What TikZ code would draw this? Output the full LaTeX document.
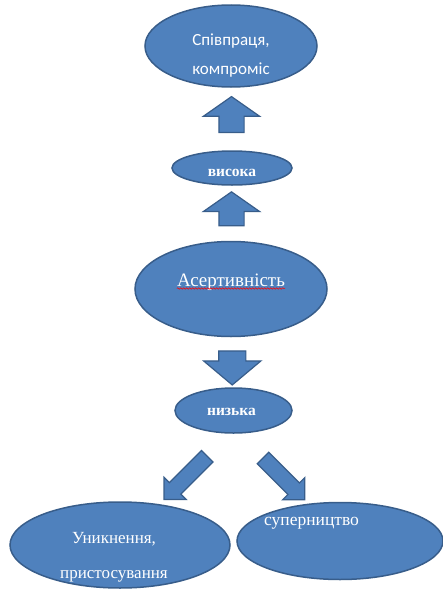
\documentclass[tikz,border=0pt]{standalone}
\usepackage{fontspec}
\setmainfont{Liberation Serif}
\newfontfamily\calibrifont{Carlito}
\usetikzlibrary{calc,shapes.geometric,shapes.arrows,decorations.pathmorphing}
\definecolor{ovalfill}{HTML}{4F81BD}
\definecolor{ovaledge}{HTML}{385D8A}

\begin{document}
\begin{tikzpicture}[x=1pt,y=1pt]
\tikzset{
  oval/.style={ellipse, draw=ovaledge, fill=ovalfill, line width=1.5pt, inner sep=0pt},
  ovaltext/.style={text=white, inner sep=0pt, align=center, anchor=base},
  blockarrow/.style={single arrow, draw=ovaledge, fill=ovalfill, line width=1.2pt,
    inner sep=0pt, text width=0pt, text depth=0pt, single arrow head indent=0pt}
}
\useasboundingbox (0,0) rectangle (443,-589);
% ovals
\node[oval, minimum width=172pt, minimum height=82pt] (koop) at (231,-46) {};
\node[oval, minimum width=120pt, minimum height=34pt] (vysoka) at (232,-168) {};
\node[oval, minimum width=192pt, minimum height=95pt] (asert) at (231,-289) {};
\node[oval, minimum width=117pt, minimum height=45pt] (nyzka) at (233.5,-410.5) {};
\node[oval, minimum width=220pt, minimum height=86pt] (unik) at (120,-545) {};
\node[oval, minimum width=206pt, minimum height=77pt] (super) at (340,-541) {};
% texts (base = last line)
\node[ovaltext, font=\calibrifont\fontsize{17}{29}\selectfont] (koopt) at (231,-74) {Співпраця,\\компроміс};
\node[ovaltext, font=\fontsize{15.5}{18}\selectfont\bfseries] (vysokat) at (232,-176) {висока};
\node[ovaltext, font=\fontsize{19}{23}\selectfont] (asertt) at (231,-286) {Асертивність};
\node[ovaltext, font=\fontsize{15.5}{18}\selectfont\bfseries] (nyzkat) at (231.5,-415) {низька};
\node[ovaltext, font=\fontsize{17}{35}\selectfont] (unikt) at (114,-578) {Уникнення,\\пристосування};
\node[ovaltext, font=\fontsize{17.5}{21}\selectfont] (supert) at (311.5,-525) {суперництво};
\draw[red, line width=0.5pt, decorate, decoration={snake, amplitude=0.8pt, segment length=3pt}]
  ([yshift=-2.5pt]asertt.base west) -- ([yshift=-2.5pt]asertt.base east);
% block arrows
\node[blockarrow, text height=24pt, minimum height=36pt, single arrow head extend=15.5pt,
  single arrow tip angle=110, rotate=90] (upA) at ($(koop.south)!0.5!(vysoka.north)$) {};
\node[blockarrow, text height=24pt, minimum height=34pt, single arrow head extend=15.5pt,
  single arrow tip angle=110, rotate=90] (upB) at ($(vysoka.south)!0.5!(asert.north)$) {};
\node[blockarrow, text height=26pt, minimum height=34pt, single arrow head extend=15pt,
  single arrow tip angle=100, rotate=-90] (down) at ($(asert.south)!0.5!(nyzka.north)$) {};
\node[blockarrow, text height=15pt, minimum height=61pt, single arrow head extend=7.5pt,
  single arrow tip angle=90, rotate=-135] (diagL) at (188.5,-475) {};
\node[blockarrow, text height=15pt, minimum height=59pt, single arrow head extend=7.5pt,
  single arrow tip angle=90, rotate=-45] (diagR) at (281,-476) {};
\end{tikzpicture}
\end{document}
